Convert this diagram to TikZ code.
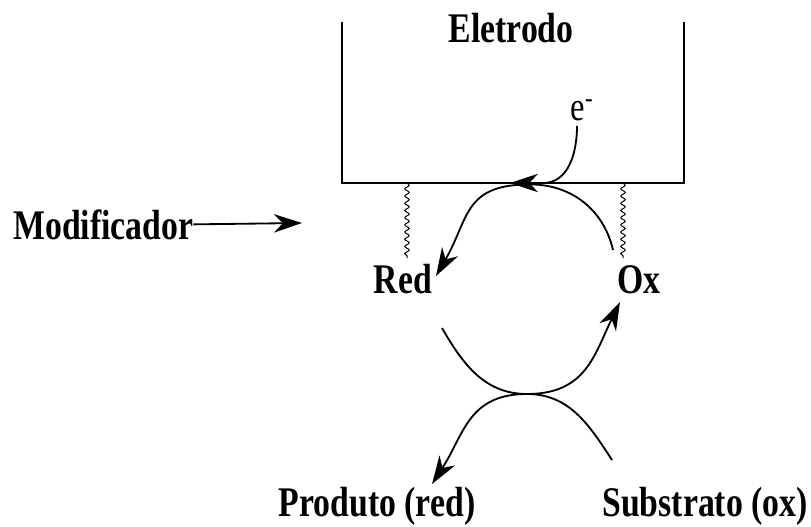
\documentclass[tikz,border=0pt]{standalone}
\usepackage{fontspec}
\setmainfont{Liberation Serif}[FakeStretch=0.8]
\usepackage{tikz}
\usetikzlibrary{arrows.meta,decorations.pathmorphing}
\definecolor{mInk}{HTML}{000000}

\begin{document}
\begin{tikzpicture}[scale=1.0,
  rotulo/.style={inner sep=0pt, anchor=base, font=\fontsize{30}{36}\selectfont\bfseries},
  seta/.style={-{Stealth[length=7mm,width=4.6mm,inset=2.2mm]}, line width=1.3pt},
  mola/.style={line width=0.7pt, decorate, decoration={snake, amplitude=0.055cm, segment length=0.18cm}}]
\useasboundingbox (0,0) rectangle (20.275,13.15);
\draw[mInk, line width=1.9pt] (8.55,12.6) -- (8.55,8.575) -- (17.1,8.575) -- (17.1,12.6);
\node[rotulo] (eletrodo) at (12.775,12.075) {Eletrodo};
\node[inner sep=0pt, anchor=base, font=\fontsize{29}{34}\selectfont] (eletron) at (14.55,10.15) {e\textsuperscript{-}};
\node[rotulo, anchor=base west] (modif) at (0.325,7.175) {Modificador};
\node[rotulo] (red) at (10.075,5.825) {Red};
\node[rotulo] (ox) at (15.975,5.825) {Ox};
\node[rotulo] (produto) at (9.425,0.25) {Produto (red)};
\node[rotulo] (substrato) at (17.625,0.25) {Substrato (ox)};
\coordinate (alvoModif) at (7.55,7.575);
\coordinate (eFim) at (12.75,8.575);
\coordinate (topo) at (13.25,8.54);
\coordinate (oxSai) at (15.325,6.9);
\coordinate (redChega) at (10.9,6.25);
\coordinate (redSai) at (11.05,4.95);
\coordinate (meio) at (13.175,3.3);
\coordinate (oxChega) at (15.5,5.6);
\coordinate (subSai) at (15.3,1.65);
\coordinate (prodChega) at (10.8,1.05);
\draw[seta] (modif.east) -- (alvoModif);
\draw[seta] (14.425,10.0) to[out=-90,in=0] (13.575,8.575) -- (eFim);
\draw[mola] (10.175,8.575) -- (10.175,6.7);
\draw[mola] (15.575,8.575) -- (15.575,6.7);
\draw[seta] (oxSai) to[out=103,in=0] (topo) to[out=180,in=60,looseness=1.3] (redChega);
\draw[seta] (redSai) to[out=-60,in=180] (meio) to[out=0,in=-116,looseness=1.15] (oxChega);
\draw[seta] (subSai) to[out=123,in=0] (meio) to[out=180,in=57,looseness=1.15] (prodChega);
\end{tikzpicture}
\end{document}
